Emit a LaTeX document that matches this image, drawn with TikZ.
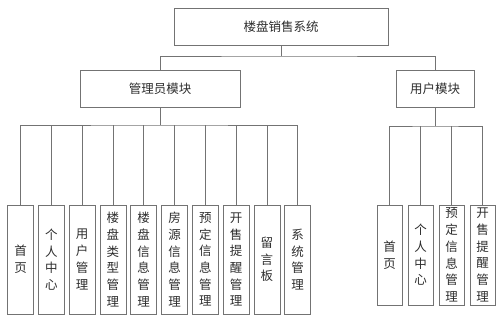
\documentclass[tikz,border=0pt]{standalone}
\usepackage{fontspec}
\newfontfamily\cjk{Noto Sans CJK SC}
\usetikzlibrary{positioning}
\definecolor{linegray}{RGB}{115,115,115}
\definecolor{textgray}{RGB}{45,45,45}

\begin{document}
\begin{tikzpicture}[x=1pt, y=-1pt, node distance=4.8pt,
  every node/.style={font=\cjk\fontsize{12.5}{16.7}\selectfont, text=textgray},
  box/.style={draw=linegray, line width=0.8pt, minimum height=37pt, inner sep=0pt},
  leaf/.style={draw=linegray, line width=0.8pt, minimum width=26pt, minimum height=109pt, inner sep=0pt, outer sep=0pt, align=center, text width=26pt},
  uleaf/.style={leaf, minimum width=25pt, text width=25pt, minimum height=100pt},
  link/.style={draw=linegray, line width=0.8pt}]
\useasboundingbox (0,0) rectangle (499,322);

\node[box, minimum width=214pt] (sys) at (281,26.5) {楼盘销售系统};
\node[box, minimum width=160pt] (admin) at (160,88.5) {管理员模块};
\node[box, minimum width=78pt] (user) at (435,88.5) {用户模块};

% admin leaves
\node[leaf] (a1) at (20.5,259.5) {首\\页};
\node[leaf, right=of a1] (a2) {个\\人\\中\\心};
\node[leaf, right=of a2] (a3) {用\\户\\管\\理};
\node[leaf, right=of a3] (a4) {楼\\盘\\类\\型\\管\\理};
\node[leaf, right=of a4] (a5) {楼\\盘\\信\\息\\管\\理};
\node[leaf, right=of a5] (a6) {房\\源\\信\\息\\管\\理};
\node[leaf, right=of a6] (a7) {预\\定\\信\\息\\管\\理};
\node[leaf, right=of a7] (a8) {开\\售\\提\\醒\\管\\理};
\node[leaf, right=of a8] (a9) {留\\言\\板};
\node[leaf, right=of a9] (a10) {系\\统\\管\\理};

% user leaves
\node[uleaf] (u1) at (389.7,255) {首\\页};
\node[uleaf, right=6pt of u1] (u2) {个\\人\\中\\心};
\node[uleaf, right=6pt of u2] (u3) {预\\定\\信\\息\\管\\理};
\node[uleaf, right=6pt of u3] (u4) {开\\售\\提\\醒\\管\\理};

% top level
\coordinate (topbus) at (sys.south |- 0,56);
\draw[link] (sys.south) -- (topbus);
\draw[link] (admin.north) |- (topbus) -| (user.north);

% admin bus
\coordinate (abus) at (admin.south |- 0,125);
\draw[link] (admin.south) -- (abus);
\draw[link] (a1.north) |- (abus) -| (a10.north);
\draw[link] (a2.north) -- (a2.north |- abus);
\draw[link] (a3.north) -- (a3.north |- abus);
\draw[link] (a4.north) -- (a4.north |- abus);
\draw[link] (a5.north) -- (a5.north |- abus);
\draw[link] (a6.north) -- (a6.north |- abus);
\draw[link] (a7.north) -- (a7.north |- abus);
\draw[link] (a8.north) -- (a8.north |- abus);
\draw[link] (a9.north) -- (a9.north |- abus);

% user bus
\coordinate (ubus) at (user.south |- 0,126);
\draw[link] (user.south) -- (ubus);
\draw[link] (u1.north) |- (ubus) -| (u4.north);
\draw[link] (u2.north) -- (u2.north |- ubus);
\draw[link] (u3.north) -- (u3.north |- ubus);
\end{tikzpicture}
\end{document}
